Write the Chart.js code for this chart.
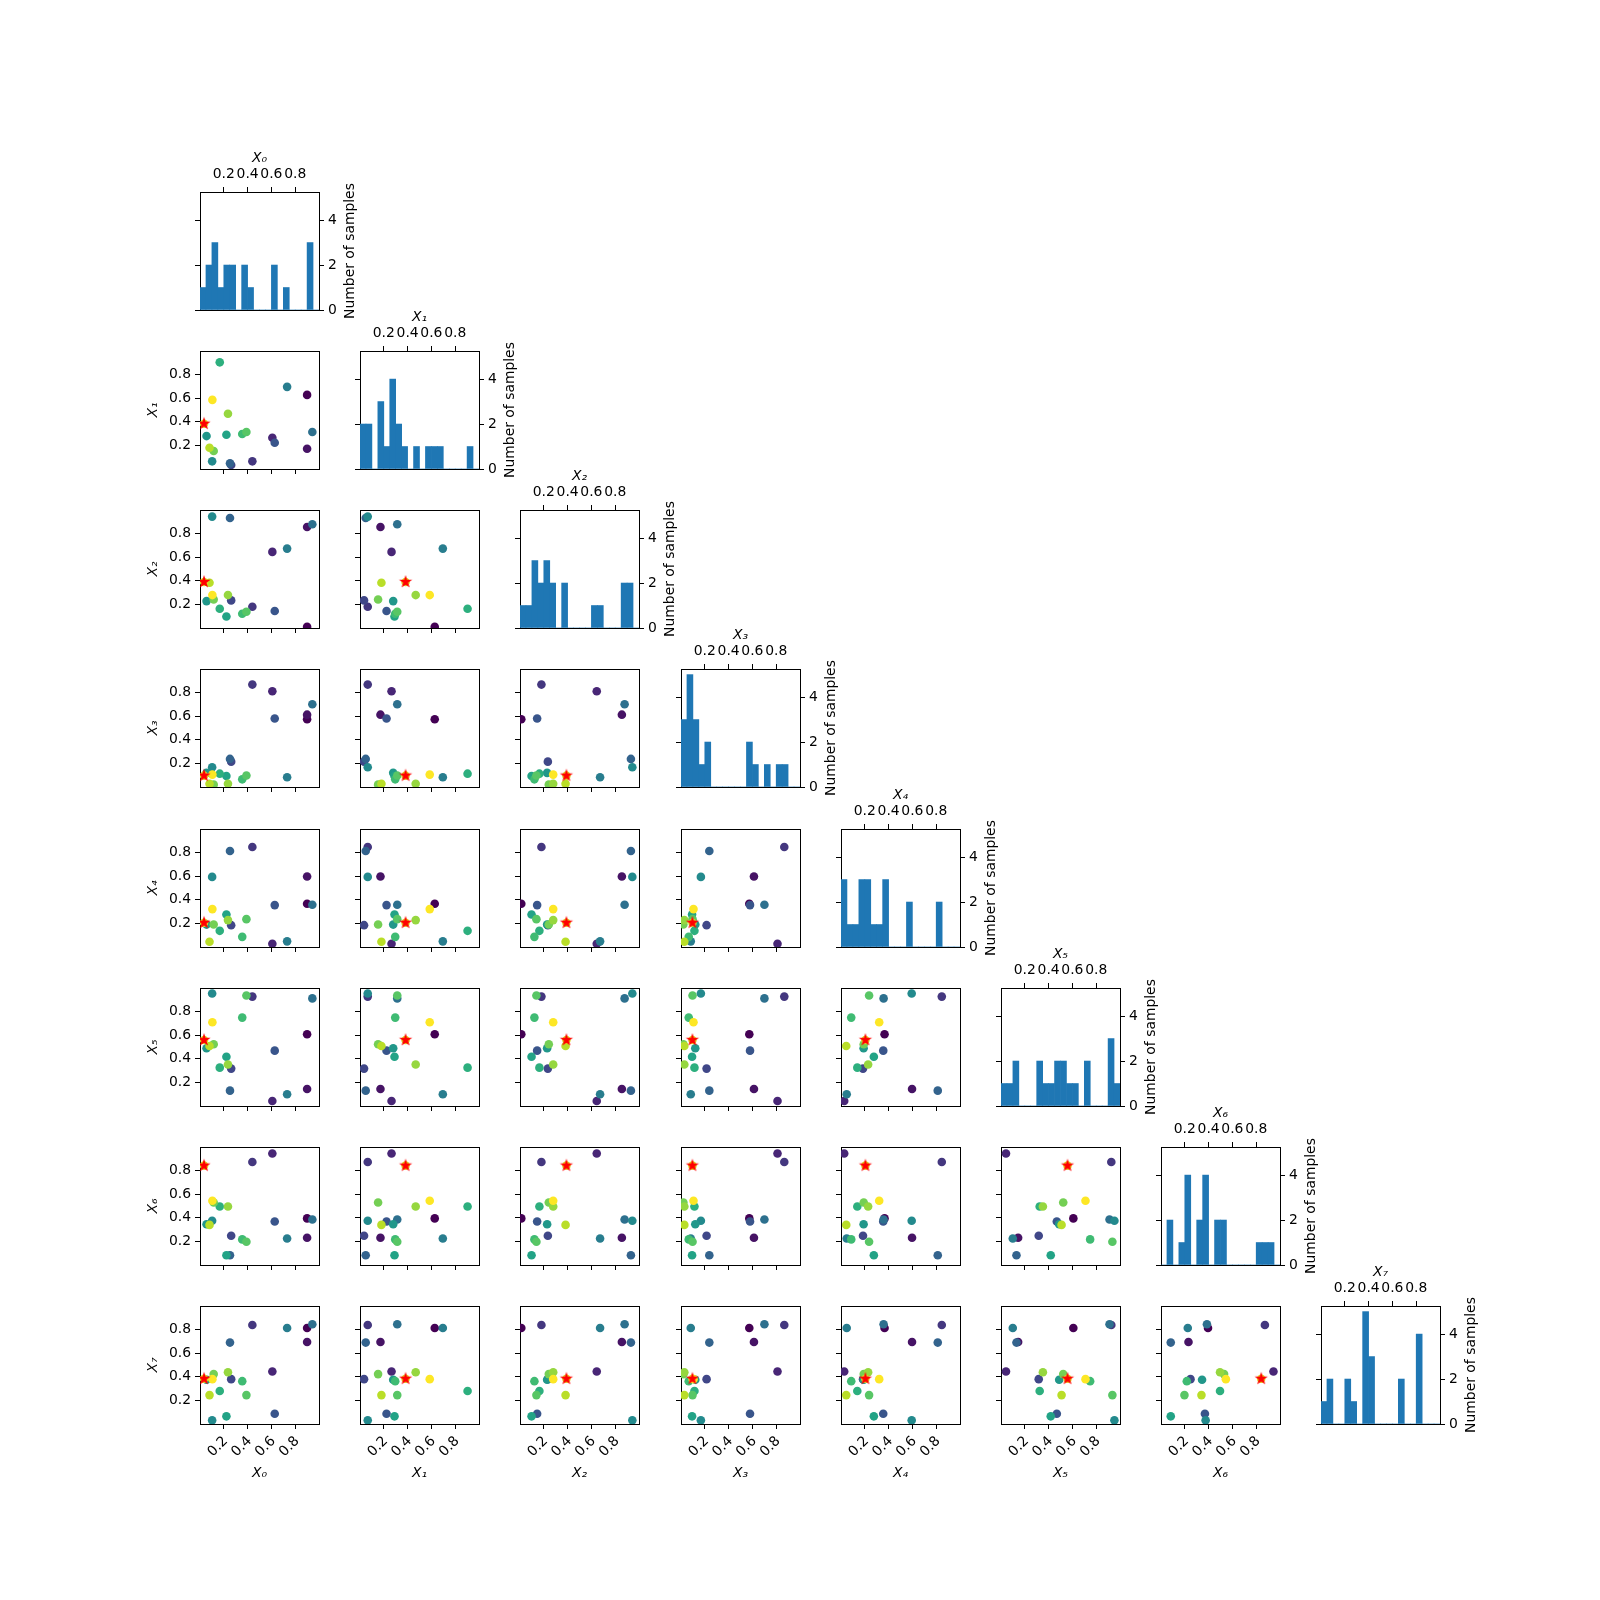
<!DOCTYPE html>
<html>
<head>
<meta charset="utf-8">
<script src="https://cdn.jsdelivr.net/npm/chart.js@4.4.1/dist/chart.umd.min.js"></script>
<style>
  html, body { margin: 0; padding: 0; background: #fff; }
  #fig { position: relative; width: 1600px; height: 1600px; overflow: hidden; background: #fff; }
  #fig canvas { position: absolute; }
</style>
</head>
<body>
<div id="fig"></div>
<script>
const dimLabels = ["X₀", "X₁", "X₂", "X₃", "X₄", "X₅", "X₆", "X₇"];
const axisTicks = [0.2, 0.4, 0.6, 0.8];
const countTicks = [0, 2, 4];
const nBins = 20;
const countMax = 5.25;

// one value per evaluated point, listed in evaluation order
const x0 = [0.900, 0.900, 0.608, 0.440, 0.262, 0.628, 0.252, 0.944, 0.732, 0.102, 0.055, 0.222, 0.166, 0.355, 0.390, 0.115, 0.235, 0.080, 0.034, 0.104];
const x1 = [0.628, 0.172, 0.265, 0.065, 0.034, 0.223, 0.048, 0.313, 0.696, 0.065, 0.279, 0.290, 0.904, 0.296, 0.313, 0.152, 0.468, 0.180, 0.383, 0.586];
const x2 = [0.011, 0.856, 0.645, 0.180, 0.234, 0.144, 0.932, 0.879, 0.673, 0.944, 0.228, 0.097, 0.163, 0.121, 0.138, 0.242, 0.279, 0.383, 0.390, 0.279];
const x3 = [0.574, 0.613, 0.811, 0.868, 0.215, 0.580, 0.238, 0.701, 0.082, 0.167, 0.120, 0.093, 0.113, 0.065, 0.097, 0.020, 0.028, 0.028, 0.096, 0.105];
const x4 = [0.366, 0.597, 0.027, 0.847, 0.185, 0.355, 0.813, 0.358, 0.048, 0.594, 0.190, 0.276, 0.137, 0.086, 0.236, 0.191, 0.228, 0.044, 0.205, 0.321];
const x5 = [0.608, 0.144, 0.042, 0.927, 0.317, 0.469, 0.130, 0.912, 0.099, 0.953, 0.489, 0.418, 0.325, 0.749, 0.936, 0.523, 0.352, 0.509, 0.559, 0.710];
const x6 = [0.395, 0.231, 0.945, 0.873, 0.248, 0.369, 0.082, 0.386, 0.225, 0.375, 0.345, 0.082, 0.496, 0.217, 0.197, 0.530, 0.496, 0.340, 0.842, 0.545];
const x7 = [0.814, 0.695, 0.445, 0.839, 0.380, 0.087, 0.690, 0.845, 0.814, 0.031, 0.375, 0.065, 0.280, 0.363, 0.245, 0.423, 0.439, 0.245, 0.383, 0.380];
const samples = [x0, x1, x2, x3, x4, x5, x6, x7];
const evalOrder = [0, 1, 2, 3, 4, 5, 6, 7, 8, 9, 10, 11, 12, 13, 14, 15, 16, 17, 18, 19];
const bestIndex = 18;

// figure geometry (matplotlib subplot grid)
const FIG_LEFT = 200, FIG_TOP = 192, COL_STEP = 160.19, ROW_STEP = 159.15;
const PW = 119, PH = 118;
const M = { l: 70, r: 70, t: 60, b: 80 };
const FONT_SIZE = 13.9;
const LH = FONT_SIZE * 1.2;

Chart.defaults.font.family = "'DejaVu Sans', 'Liberation Sans', sans-serif";
Chart.defaults.font.size = FONT_SIZE;
Chart.defaults.color = "#000";
Chart.defaults.animation = false;

const VIRIDIS = ["#440154", "#482475", "#414487", "#355f8d", "#2a788e", "#21918c", "#22a884", "#44bf70", "#7ad151", "#bddf26", "#fde725"];

function viridis(t) {
    const p = Math.max(0, Math.min(1, t)) * 10;
    const i = Math.min(9, Math.floor(p));
    const f = p - i;
    const a = parseInt(VIRIDIS[i].slice(1), 16), b = parseInt(VIRIDIS[i + 1].slice(1), 16);
    const ch = s => Math.round(((a >> s) & 255) * (1 - f) + ((b >> s) & 255) * f);
    return `rgb(${ch(16)}, ${ch(8)}, ${ch(0)})`;
}

function makeStar(r) {
    const size = Math.ceil(r * 2) + 2;
    const c = document.createElement("canvas");
    c.width = size; c.height = size;
    const ctx = c.getContext("2d");
    ctx.translate(size / 2, size / 2);
    ctx.beginPath();
    for (let k = 0; k < 10; k++) {
        const rad = k % 2 === 0 ? r : r * 0.381966;
        const ang = -Math.PI / 2 + k * Math.PI / 5;
        ctx.lineTo(rad * Math.cos(ang), rad * Math.sin(ang));
    }
    ctx.closePath();
    ctx.fillStyle = "#ff0000";
    ctx.fill();
    return c;
}
const starMarker = makeStar(6.9);

const countLabel = {
    id: "countLabel",
    afterDraw(chart, args, opts) {
        if (!opts.text) return;
        const { ctx, chartArea } = chart;
        ctx.save();
        ctx.translate(chartArea.right + 31, (chartArea.top + chartArea.bottom) / 2);
        ctx.rotate(-Math.PI / 2);
        ctx.font = `${FONT_SIZE}px 'DejaVu Sans'`;
        ctx.fillStyle = "#000";
        ctx.textAlign = "center";
        ctx.textBaseline = "middle";
        ctx.fillText(opts.text, 0, 0);
        ctx.restore();
    }
};

function fixSize(size) {
    return function (scale) {
        if (scale.isHorizontal()) scale.height = size; else scale.width = size;
        scale.paddingLeft = scale.paddingRight = scale.paddingTop = scale.paddingBottom = 0;
    };
}

function valueAxis(position, size, o) {
    return {
        type: "linear",
        position: position,
        bounds: "data",
        offset: false,
        min: o.min,
        max: o.max,
        afterBuildTicks: s => { s.ticks = o.ticks.map(v => ({ value: v })); },
        afterFit: fixSize(size),
        ticks: {
            display: !!o.labels,
            autoSkip: false,
            minRotation: o.rot || 0,
            maxRotation: o.rot || 0,
            padding: 4,
            labelOffset: o.rot ? 2 : 0,
            color: "#000",
            callback: o.fmt || (v => v)
        },
        grid: { display: o.marks !== false, offset: false, drawOnChartArea: false, drawTicks: true, tickLength: 5, color: "#000", lineWidth: 1 },
        border: { display: true, color: "#000", width: 1 },
        title: o.title
            ? { display: true, text: o.title, color: "#000", font: { style: "italic", size: FONT_SIZE }, padding: o.titlePad }
            : { display: false }
    };
}

const fmt1 = v => v.toFixed(1);

const fig = document.getElementById("fig");

function makeCanvas(row, col) {
    const c = document.createElement("canvas");
    c.width = M.l + PW + M.r;
    c.height = M.t + PH + M.b;
    c.style.left = (Math.round(FIG_LEFT + COL_STEP * col) - M.l) + "px";
    c.style.top = (Math.round(FIG_TOP + ROW_STEP * row) - M.t) + "px";
    fig.appendChild(c);
    return c;
}

const baseOptions = {
    responsive: false,
    events: [],
    layout: { padding: 0, autoPadding: false },
};

function histChart(i) {
    const counts = new Array(nBins).fill(0);
    samples[i].forEach(v => counts[Math.min(nBins - 1, Math.floor(v * nBins))]++);
    const labels = counts.map((_, b) => ((b + 0.5) / nBins).toFixed(3));

    return new Chart(makeCanvas(i, i), {
        type: "bar",
        data: {
            labels: labels,
            datasets: [{
                data: counts,
                backgroundColor: "#1f77b4",
                borderWidth: 0,
                barPercentage: 1,
                categoryPercentage: 1,
                xAxisID: "x",
                yAxisID: "y"
            }]
        },
        options: {
            ...baseOptions,
            scales: {
                x: {
                    type: "category",
                    position: "bottom",
                    offset: true,
                    afterFit: fixSize(M.b),
                    ticks: { display: false },
                    grid: { display: false },
                    border: { display: true, color: "#000", width: 1 }
                },
                xt: valueAxis("top", M.t, { min: 0, max: 1, ticks: axisTicks, labels: true, fmt: fmt1, title: dimLabels[i], titlePad: { top: M.t - 34 - LH / 2, bottom: 0 } }),
                y: valueAxis("left", M.l, { min: 0, max: countMax, ticks: countTicks }),
                yr: valueAxis("right", M.r, { min: 0, max: countMax, ticks: countTicks, labels: true, fmt: v => String(v) })
            },
            plugins: {
                legend: { display: false },
                tooltip: { enabled: false },
                countLabel: { text: "Number of samples" }
            }
        },
        plugins: [countLabel]
    });
}

function scatterChart(row, col) {
    const n = evalOrder.length;
    const points = evalOrder.map((k, idx) => ({ x: samples[col][idx], y: samples[row][idx] }));
    const colors = evalOrder.map(k => viridis(k / (n - 1)));
    const bottomRow = row === samples.length - 1;

    return new Chart(makeCanvas(row, col), {
        type: "scatter",
        data: {
            datasets: [
                {
                    data: [{ x: samples[col][bestIndex], y: samples[row][bestIndex] }],
                    pointStyle: starMarker,
                    pointRadius: 7,
                    clip: 0,
                    order: 0,
                    xAxisID: "x",
                    yAxisID: "y"
                },
                {
                    data: points,
                    pointBackgroundColor: colors,
                    pointBorderWidth: 0,
                    pointRadius: 4.3,
                    clip: 0,
                    order: 1,
                    xAxisID: "x",
                    yAxisID: "y"
                }
            ]
        },
        options: {
            ...baseOptions,
            scales: {
                x: valueAxis("bottom", M.b, {
                    min: 0, max: 1, ticks: axisTicks, labels: bottomRow, rot: 45, fmt: fmt1,
                    title: bottomRow ? dimLabels[col] : null, titlePad: { top: 0, bottom: M.b - 49.5 - LH / 2 }
                }),
                y: valueAxis("left", M.l, {
                    min: 0, max: 1, ticks: axisTicks, labels: col === 0, fmt: fmt1,
                    title: col === 0 ? dimLabels[row] : null, titlePad: { top: M.l - 47 - LH / 2, bottom: 0 }
                }),
                xt: valueAxis("top", M.t, { min: 0, max: 1, ticks: [0, 1], marks: false }),
                yr: valueAxis("right", M.r, { min: 0, max: 1, ticks: [0, 1], marks: false })
            },
            plugins: {
                legend: { display: false },
                tooltip: { enabled: false }
            }
        }
    });
}

const charts = [];
for (let row = 0; row < samples.length; row++) {
    for (let col = 0; col <= row; col++) {
        charts.push(row === col ? histChart(row) : scatterChart(row, col));
    }
}
</script>
</body>
</html>
